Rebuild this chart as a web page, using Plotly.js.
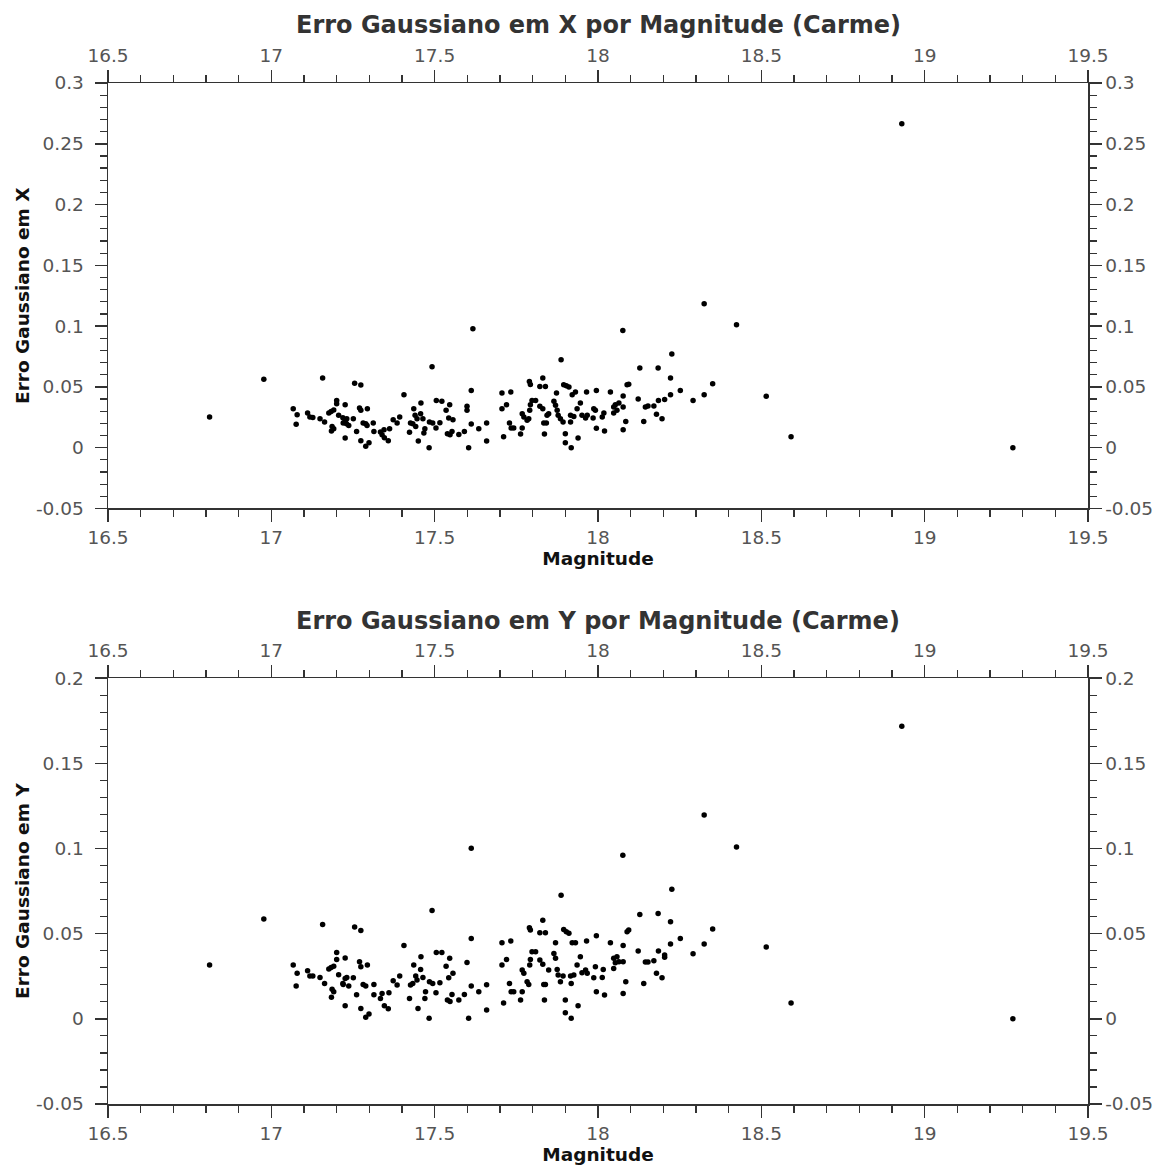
<!DOCTYPE html>
<html><head><meta charset="utf-8">
<script src="https://cdn.plot.ly/plotly-3.0.1.min.js"></script>
<style>body{margin:0;background:#fff}#chart{width:1165px;height:1169px}</style>
</head><body><div id="chart"></div><script>
// Top chart: Gaussian error in X vs magnitude
const magX = [
16.811,16.977,17.067,17.079,17.076,17.111,17.118,17.127,17.149,17.163,
17.157,17.176,17.183,17.191,17.200,17.200,17.226,17.186,17.191,17.184,
17.206,17.219,17.226,17.231,17.237,17.220,17.230,17.226,17.251,17.255,
17.274,17.270,17.274,17.294,17.261,17.281,17.289,17.293,17.274,17.289,
17.299,17.312,17.314,17.334,17.345,17.339,17.346,17.358,17.362,17.373,
17.385,17.393,17.406,17.423,17.426,17.436,17.440,17.433,17.442,17.450,
17.446,17.458,17.457,17.464,17.470,17.467,17.483,17.492,17.484,17.494,
17.504,17.516,17.505,17.522,17.535,17.546,17.543,17.556,17.539,17.547,
17.553,17.574,17.591,17.599,17.599,17.612,17.612,17.604,17.617,17.635,
17.659,17.659,
17.706,17.733,17.706,17.720,17.729,17.734,17.742,17.711,17.763,17.768,
17.790,17.793,17.831,17.822,17.839,17.798,17.809,17.793,17.791,17.768,
17.773,17.783,17.788,17.822,17.831,17.849,17.844,17.834,17.842,17.836,
17.887,17.873,17.865,17.870,17.875,17.885,17.878,17.893,17.895,17.903,
17.911,17.921,17.931,17.946,17.936,17.916,17.926,17.916,17.900,17.900,
17.918,17.939,17.965,17.995,17.951,17.962,17.967,17.987,17.992,17.985,
18.013,18.018,17.995,18.020,18.038,18.048,18.053,18.058,18.064,18.048,
18.077,18.077,18.076,18.089,18.094,18.085,18.077,18.128,18.123,18.140,
18.145,18.153,18.171,18.184,18.179,18.196,18.185,18.204,18.226,18.222,
18.222,18.252,18.291,18.325,18.325,18.351,18.424,18.515,18.591,18.930,19.270];
const errX = [
0.0252,0.0562,0.0320,0.0271,0.0192,0.0285,0.0252,0.0249,0.0238,0.0211,
0.0573,0.0285,0.0298,0.0309,0.0389,0.0361,0.0353,0.0175,0.0156,0.0137,
0.0266,0.0246,0.0219,0.0238,0.0183,0.0203,0.0197,0.0079,0.0238,0.0529,
0.0515,0.0326,0.0307,0.0320,0.0134,0.0203,0.0197,0.0183,0.0057,0.0011,
0.0041,0.0203,0.0134,0.0129,0.0148,0.0107,0.0082,0.0057,0.0156,0.0230,
0.0203,0.0252,0.0436,0.0126,0.0203,0.0320,0.0266,0.0197,0.0175,0.0055,
0.0238,0.0367,0.0279,0.0238,0.0156,0.0120,0.0000,0.0666,0.0211,0.0203,
0.0161,0.0205,0.0389,0.0381,0.0307,0.0353,0.0244,0.0230,0.0115,0.0107,
0.0134,0.0109,0.0134,0.0340,0.0307,0.0471,0.0194,0.0000,0.0978,0.0156,
0.0203,0.0055,
0.0449,0.0457,0.0320,0.0353,0.0203,0.0161,0.0161,0.0090,0.0112,0.0161,
0.0545,0.0520,0.0573,0.0504,0.0504,0.0389,0.0389,0.0353,0.0307,0.0279,
0.0252,0.0225,0.0238,0.0340,0.0320,0.0279,0.0266,0.0203,0.0203,0.0112,
0.0723,0.0449,0.0381,0.0348,0.0307,0.0238,0.0266,0.0211,0.0518,0.0510,
0.0499,0.0436,0.0457,0.0367,0.0320,0.0266,0.0257,0.0211,0.0115,0.0041,
0.0000,0.0079,0.0457,0.0471,0.0266,0.0244,0.0266,0.0320,0.0307,0.0244,
0.0252,0.0285,0.0159,0.0137,0.0457,0.0334,0.0353,0.0307,0.0367,0.0285,
0.0425,0.0334,0.0964,0.0518,0.0521,0.0216,0.0148,0.0655,0.0400,0.0216,
0.0334,0.0342,0.0342,0.0655,0.0274,0.0238,0.0389,0.0397,0.0770,0.0573,
0.0436,0.0471,0.0389,0.1184,0.0436,0.0526,0.1011,0.0422,0.0090,0.2664,0.0000];

// Bottom chart: Gaussian error in Y vs magnitude
const magY = [
16.811,16.977,17.067,17.079,17.076,17.111,17.118,17.127,17.149,17.163,
17.157,17.176,17.183,17.191,17.200,17.200,17.226,17.186,17.191,17.184,
17.206,17.219,17.226,17.231,17.237,17.220,17.251,17.226,17.255,17.274,
17.270,17.274,17.294,17.261,17.281,17.289,17.314,17.274,17.289,17.299,
17.314,17.339,17.334,17.346,17.358,17.360,17.373,17.385,17.393,17.406,
17.423,17.436,17.426,17.433,17.442,17.446,17.458,17.457,17.464,17.470,
17.472,17.449,17.483,17.492,17.484,17.494,17.504,17.516,17.505,17.522,
17.535,17.546,17.543,17.556,17.539,17.547,17.553,17.574,17.591,17.599,
17.612,17.612,17.604,17.612,17.635,17.659,17.659,
17.706,17.733,17.706,17.720,17.729,17.734,17.742,17.711,17.763,17.768,
17.790,17.793,17.831,17.822,17.839,17.798,17.809,17.793,17.791,17.768,
17.773,17.783,17.788,17.822,17.831,17.849,17.839,17.834,17.836,17.887,
17.870,17.865,17.870,17.875,17.885,17.878,17.893,17.895,17.903,17.911,
17.921,17.931,17.946,17.936,17.916,17.926,17.918,17.900,17.900,17.918,
17.939,17.965,17.995,17.951,17.962,17.967,17.987,17.992,18.013,18.016,
17.995,18.020,18.038,18.048,18.053,18.058,18.064,18.048,18.077,18.077,
18.089,18.094,18.085,18.077,18.128,18.123,18.140,18.145,18.153,18.171,
18.184,18.179,18.196,18.185,18.204,18.204,18.226,18.222,18.222,18.252,
18.291,18.325,18.351,18.515,18.591,18.076,18.325,18.424,18.930,19.270];
const errY = [
0.0316,0.0586,0.0316,0.0267,0.0193,0.0282,0.0251,0.0251,0.0243,0.0208,
0.0554,0.0292,0.0302,0.0308,0.0390,0.0349,0.0357,0.0173,0.0159,0.0126,
0.0259,0.0208,0.0237,0.0243,0.0192,0.0202,0.0241,0.0077,0.0539,0.0519,
0.0335,0.0306,0.0316,0.0142,0.0202,0.0192,0.0202,0.0061,0.0009,0.0028,
0.0142,0.0149,0.0120,0.0077,0.0059,0.0153,0.0224,0.0198,0.0251,0.0431,
0.0120,0.0316,0.0198,0.0208,0.0251,0.0228,0.0365,0.0290,0.0243,0.0120,
0.0159,0.0061,0.0003,0.0636,0.0218,0.0208,0.0153,0.0212,0.0390,0.0390,
0.0308,0.0355,0.0241,0.0267,0.0110,0.0101,0.0143,0.0110,0.0143,0.0331,
0.0472,0.0192,0.0003,0.1002,0.0159,0.0200,0.0052,
0.0447,0.0457,0.0316,0.0349,0.0208,0.0159,0.0159,0.0093,0.0110,0.0159,
0.0535,0.0521,0.0578,0.0505,0.0505,0.0394,0.0394,0.0349,0.0316,0.0286,
0.0267,0.0218,0.0202,0.0345,0.0320,0.0286,0.0202,0.0202,0.0110,0.0726,
0.0447,0.0384,0.0355,0.0290,0.0218,0.0257,0.0251,0.0525,0.0511,0.0502,
0.0447,0.0447,0.0365,0.0316,0.0251,0.0257,0.0208,0.0110,0.0036,0.0003,
0.0077,0.0457,0.0488,0.0271,0.0286,0.0267,0.0241,0.0306,0.0243,0.0290,
0.0159,0.0140,0.0447,0.0355,0.0329,0.0365,0.0335,0.0296,0.0431,0.0335,
0.0511,0.0521,0.0218,0.0149,0.0613,0.0398,0.0208,0.0333,0.0333,0.0341,
0.0619,0.0267,0.0241,0.0398,0.0374,0.0361,0.0760,0.0570,0.0439,0.0472,
0.0382,0.0439,0.0527,0.0421,0.0093,0.0961,0.1197,0.1009,0.1718,0.0000];

const xTickVals = [16.5,17,17.5,18,18.5,19,19.5];
const xTickText = ['16.5','17','17.5','18','18.5','19','19.5'];
const yTickValsTop = [-0.05,0,0.05,0.1,0.15,0.2,0.25,0.3];
const yTickTextTop = ['-0.05','0','0.05','0.1','0.15','0.2','0.25','0.3'];
const yTickValsBot = [-0.05,0,0.05,0.1,0.15,0.2];
const yTickTextBot = ['-0.05','0','0.05','0.1','0.15','0.2'];
const titleTop = 'Erro Gaussiano em X por Magnitude (Carme)';
const titleBot = 'Erro Gaussiano em Y por Magnitude (Carme)';
const xLabel = 'Magnitude';
const yLabelTop = 'Erro Gaussiano em X';
const yLabelBot = 'Erro Gaussiano em Y';

const FONT = 'DejaVu Sans, sans-serif';
const LINE = '#333';
const TICKFONT = {family: FONT, size: 18.5, color: '#555'};
const LABELFONT = {family: FONT, size: 18.5, color: '#111'};

function xAx(anchor, side, overlay, withTitle) {
  const a = {
    anchor: anchor, side: side, range: [16.5, 19.5], autorange: false,
    tickmode: 'array', tickvals: xTickVals, ticktext: xTickText,
    ticks: 'outside', ticklen: 12, tickwidth: 1.5, tickcolor: LINE,
    minor: {tick0: 16.5, dtick: 0.1, ticks: 'outside', ticklen: 7, tickwidth: 1.2, tickcolor: LINE, showgrid: false},
    showline: true, linecolor: LINE, linewidth: 1.5, showgrid: false, zeroline: false,
    tickfont: TICKFONT, automargin: false, fixedrange: true
  };
  if (overlay) a.overlaying = overlay;
  if (withTitle) a.title = {text: '<b>' + xLabel + '</b>', font: LABELFONT, standoff: 5};
  return a;
}
function yAx(anchor, side, overlay, domain, range, vals, text, title) {
  const a = {
    anchor: anchor, side: side, range: range, autorange: false,
    tickmode: 'array', tickvals: vals, ticktext: text,
    ticks: 'outside', ticklen: 12, tickwidth: 1.5, tickcolor: LINE,
    minor: {tick0: 0, dtick: 0.01, ticks: 'outside', ticklen: 7, tickwidth: 1.2, tickcolor: LINE, showgrid: false},
    showline: true, linecolor: LINE, linewidth: 1.5, showgrid: false, zeroline: false,
    tickfont: TICKFONT, automargin: false, fixedrange: true,
    ticklabelstandoff: side === 'right' ? 0 : 7
  };
  if (domain) a.domain = domain;
  if (overlay) a.overlaying = overlay;
  if (title) a.title = {text: '<b>' + title + '</b>', font: LABELFONT, standoff: 1};
  return a;
}

const marker = {color: '#000', size: 5.5};
const data = [
  {x: magX, y: errX, xaxis: 'x', yaxis: 'y', type: 'scatter', mode: 'markers', marker: marker, hoverinfo: 'x+y'},
  {x: [], y: [], xaxis: 'x2', yaxis: 'y2', type: 'scatter', mode: 'markers', showlegend: false},
  {x: magY, y: errY, xaxis: 'x3', yaxis: 'y3', type: 'scatter', mode: 'markers', marker: marker, hoverinfo: 'x+y'},
  {x: [], y: [], xaxis: 'x4', yaxis: 'y4', type: 'scatter', mode: 'markers', showlegend: false}
];

const layout = {
  width: 1165, height: 1169, showlegend: false,
  paper_bgcolor: '#fff', plot_bgcolor: '#fff',
  margin: {l: 108, r: 77, t: 83, b: 65},
  font: {family: FONT},
  xaxis: xAx('y', 'bottom', null, true),
  xaxis2: xAx('y', 'top', 'x', false),
  yaxis: yAx('x', 'left', null, [0.5833, 1], [-0.05, 0.3], yTickValsTop, yTickTextTop, yLabelTop),
  yaxis2: yAx('x', 'right', 'y', null, [-0.05, 0.3], yTickValsTop, yTickTextTop, null),
  xaxis3: xAx('y3', 'bottom', null, true),
  xaxis4: xAx('y3', 'top', 'x3', false),
  yaxis3: yAx('x3', 'left', null, [0, 0.4171], [-0.05, 0.2], yTickValsBot, yTickTextBot, yLabelBot),
  yaxis4: yAx('x3', 'right', 'y3', null, [-0.05, 0.2], yTickValsBot, yTickTextBot, null),
  annotations: [
    {text: '<b>' + titleTop + '</b>', xref: 'paper', yref: 'paper', x: 0.5, y: 1.0568, xanchor: 'center', yanchor: 'middle', showarrow: false, font: {family: FONT, size: 24, color: '#333'}},
    {text: '<b>' + titleBot + '</b>', xref: 'paper', yref: 'paper', x: 0.5, y: 0.4730, xanchor: 'center', yanchor: 'middle', showarrow: false, font: {family: FONT, size: 24, color: '#333'}}
  ]
};

Plotly.newPlot('chart', data, layout, {staticPlot: true, displayModeBar: false});
</script></body></html>
